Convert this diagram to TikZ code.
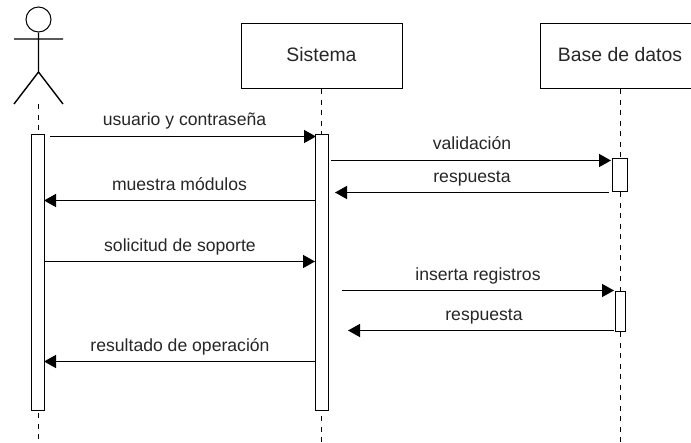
\documentclass[tikz,border=0pt]{standalone}
\usepackage{fontspec}
\setmainfont{Liberation Sans}
\usetikzlibrary{arrows.meta}
\begin{document}
\begin{tikzpicture}[x=1pt,y=-1pt,
  line width=1.4pt,
  boxnode/.style={draw,inner sep=0pt,anchor=north west,fill=white},
  titlenode/.style={font=\fontsize{19.4}{22}\selectfont,text=black!85,anchor=base},
  msglabel/.style={font=\fontsize{17.6}{20}\selectfont,text=black!85,inner sep=0pt,anchor=base},
  lifeline/.style={dash pattern=on 5pt off 5.5pt,line width=1.3pt},
  msg/.style={-{Triangle[length=12pt,width=13pt]},line width=1.4pt}]
\useasboundingbox (0,0) rectangle (691,442);
\clip (0,0) rectangle (691,442);
% actor
\node (head) [draw,circle,minimum size=25pt,inner sep=0pt,line width=1pt] at (38.5,19.5) {};
\coordinate (hip) at (38.5,72);
\coordinate (armL) at (14,39);
\coordinate (armR) at (63,39);
\coordinate (footL) at (14,104);
\coordinate (footR) at (63,104);
\coordinate (actorTop) at (38.5,104);
\draw (head.south) -- (hip) (armL) -- (armR) (hip) -- (footL) (hip) -- (footR);
% heads
\node (sis) [boxnode,minimum width=161pt,minimum height=65pt] at (241,23) {};
\node[titlenode] (sist) at (321.5,61) {Sistema};
\node (bd) [boxnode,minimum width=160pt,minimum height=65pt] at (540,23) {};
\node[titlenode] (bdt) at (620,61) {Base de datos};
% lifeline ends
\coordinate (aEnd) at (38.5,442);
\coordinate (sEnd) at (321.5,442);
\coordinate (sBelow) at (321.5,416);
\coordinate (dEnd) at (620.5,442);
% activations
\node (actA) [boxnode,minimum width=13pt,minimum height=276pt] at (30.5,134) {};
\node (actS) [boxnode,minimum width=13pt,minimum height=276pt] at (315,134) {};
\node (actD1) [boxnode,minimum width=15pt,minimum height=33pt] at (612,158) {};
\node (actD2) [boxnode,minimum width=10pt,minimum height=40pt] at (614.5,291) {};
% lifelines
\draw[lifeline] (actorTop) -- (actA.north -| actorTop);
\draw[lifeline] (actA.south -| aEnd) ++(0,2) -- (aEnd);
\draw[lifeline] (sis.south -| sEnd) -- (actS.north -| sEnd);
\draw[lifeline] (sBelow) -- (sEnd);
\draw[lifeline] (bd.south -| dEnd) -- (actD1.north -| dEnd);
\draw[lifeline] (actD1.south -| dEnd) -- (actD2.north -| dEnd);
\draw[lifeline] (actD2.south -| dEnd) -- (dEnd);
% messages
\coordinate (m1a) at (50,136.5);   \coordinate (m1b) at (316,136.5);
\coordinate (m2a) at (331,160.5);  \coordinate (m2b) at (611,160.5);
\coordinate (m3a) at (609,192.5);  \coordinate (m3b) at (335,192.5);
\coordinate (m4a) at (315,200.5);\coordinate (m4b) at (44,200.5);
\coordinate (m5a) at (44,261.5); \coordinate (m5b) at (315,261.5);
\coordinate (m6a) at (342,290.5);  \coordinate (m6b) at (614,290.5);
\coordinate (m7a) at (614,330.5);  \coordinate (m7b) at (348,330.5);
\coordinate (m8a) at (316,361.5);\coordinate (m8b) at (44,361.5);
\draw[msg] (m1a) -- (m1b);
\draw[msg] (m2a) -- (m2b);
\draw[msg] (m3a) -- (m3b);
\draw[msg] (m4a) -- (m4b);
\draw[msg] (m5a) -- (m5b);
\draw[msg] (m6a) -- (m6b);
\draw[msg] (m7a) -- (m7b);
\draw[msg] (m8a) -- (m8b);
% labels
\node[msglabel] (l1) at (184.5,125) {usuario y contraseña};
\node[msglabel] (l2) at (472,149.5) {validación};
\node[msglabel] (l3) at (472,182) {respuesta};
\node[msglabel] (l4) at (179.5,190.5) {muestra módulos};
\node[msglabel] (l5) at (180,251) {solicitud de soporte};
\node[msglabel] (l6) at (478,280) {inserta registros};
\node[msglabel] (l7) at (484,320.5) {respuesta};
\node[msglabel] (l8) at (180,351) {resultado de operación};
\end{tikzpicture}
\end{document}
